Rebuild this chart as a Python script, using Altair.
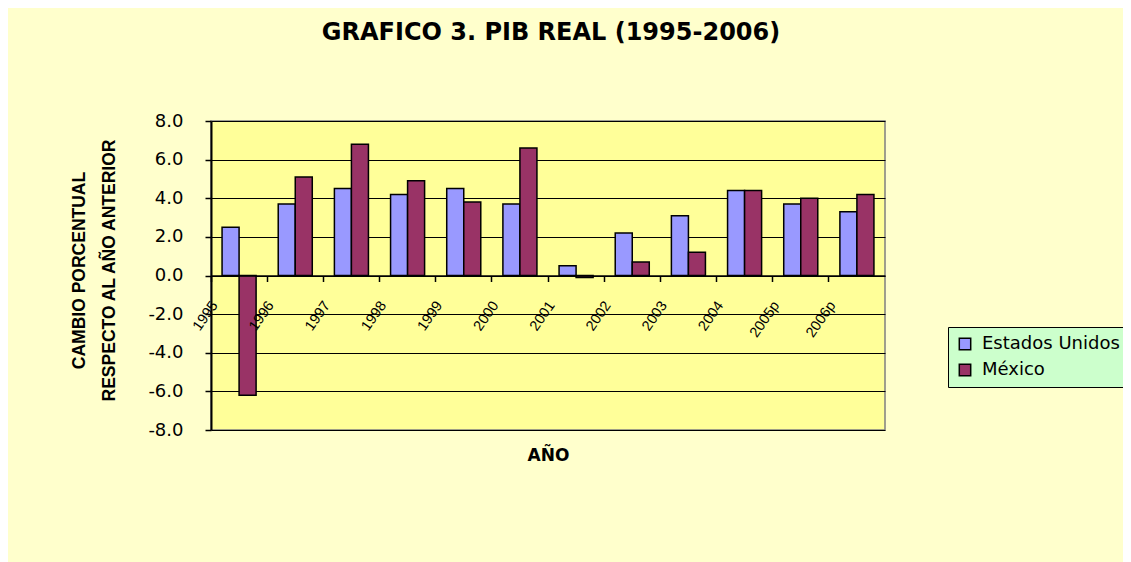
import altair as alt
import pandas as pd

years = ["1995", "1996", "1997", "1998", "1999", "2000", "2001", "2002",
         "2003", "2004", "2005p", "2006p"]
estados_unidos = [2.5, 3.7, 4.5, 4.2, 4.5, 3.7, 0.5, 2.2, 3.1, 4.4, 3.7, 3.3]
mexico = [-6.2, 5.1, 6.8, 4.9, 3.8, 6.6, -0.1, 0.7, 1.2, 4.4, 4.0, 4.2]
series = ["Estados Unidos", "México"]
colors = ["#9999FF", "#993366"]
y_ticks = [-8, -6, -4, -2, 0, 2, 4, 6, 8]

rows = []
for i, yr in enumerate(years):
    rows.append({"Año": yr, "Serie": series[0], "Valor": estados_unidos[i]})
    rows.append({"Año": yr, "Serie": series[1], "Valor": mexico[i]})
df = pd.DataFrame(rows)

W, H = 674, 309
STEP = W / len(years)

chart = alt.Chart(df).mark_bar(stroke="black", strokeWidth=1.5).encode(
    x=alt.X(
        "Año:N", sort=years,
        scale=alt.Scale(paddingInner=0, paddingOuter=0),
        axis=alt.Axis(
            title="AÑO", orient="bottom", offset=-H / 2, bandPosition=0,
            labelAngle=-55, labelAlign="right", labelBaseline="middle",
            labelPadding=21, labelOffset=-STEP / 2 + 4, labelFont="Liberation Sans",
            labelFontSize=14.5, labelColor="black", labelOverlap=False,
            tickColor="black", tickSize=6, tickWidth=1.5,
            domainColor="black", domainWidth=1.5, grid=False, zindex=1,
            titleFont="DejaVu Sans", titleFontSize=17, titleFontWeight="bold",
            titleColor="black", titleY=180, titleBaseline="middle",
        ),
    ),
    xOffset=alt.XOffset("Serie:N", sort=series,
                        scale=alt.Scale(paddingOuter=0.65, paddingInner=0)),
    y=alt.Y(
        "Valor:Q",
        scale=alt.Scale(domain=[-8, 8], nice=False, zero=False),
        axis=alt.Axis(
            values=y_ticks,
            labelExpr="datum.value < 0 ? '-' + format(-datum.value, '.1f') : format(datum.value, '.1f')",
            title=["CAMBIO PORCENTUAL", "RESPECTO AL AÑO ANTERIOR"],
            titleFont="Liberation Sans", titleFontSize=17.5, titleFontWeight="bold",
            titleColor="black", titleLineHeight=30, titleX=-132, titleY=149,
            titleAlign="center", titleBaseline="middle", titleAngle=270,
            labelFont="DejaVu Sans", labelFontSize=18, labelColor="black",
            labelPadding=22, tickColor="black", tickSize=6, tickWidth=1.5,
            domainColor="black", domainWidth=2,
            grid=True, gridColor="black", gridWidth=1, gridOpacity=1,
        ),
    ),
    color=alt.Color(
        "Serie:N", sort=series,
        scale=alt.Scale(domain=series, range=colors),
        legend=alt.Legend(
            title=None, orient="none", legendX=737, legendY=206,
            fillColor="#CCFFCC", strokeColor="black", padding=8,
            symbolType="square", symbolSize=130, symbolStrokeColor="black",
            symbolStrokeWidth=1.5, symbolOpacity=1,
            labelFont="DejaVu Sans", labelFontSize=18, labelColor="black",
            labelOffset=8, rowPadding=8,
        ),
    ),
).properties(
    width=W, height=H,
    title=alt.TitleParams(
        "GRAFICO 3. PIB REAL (1995-2006)", font="DejaVu Sans", fontSize=24,
        fontWeight="bold", color="black", anchor="middle", offset=67, dx=3,
    ),
    autosize=alt.AutoSizeParams(type="none"),
    padding={"left": 203, "top": 113, "right": 238, "bottom": 132},
).configure(
    background="#FFFFCC",
).configure_view(
    fill="#FFFF99", stroke="#808080", strokeWidth=1.5,
)

chart.save("out.html", embed_options={"renderer": "svg", "actions": False})
